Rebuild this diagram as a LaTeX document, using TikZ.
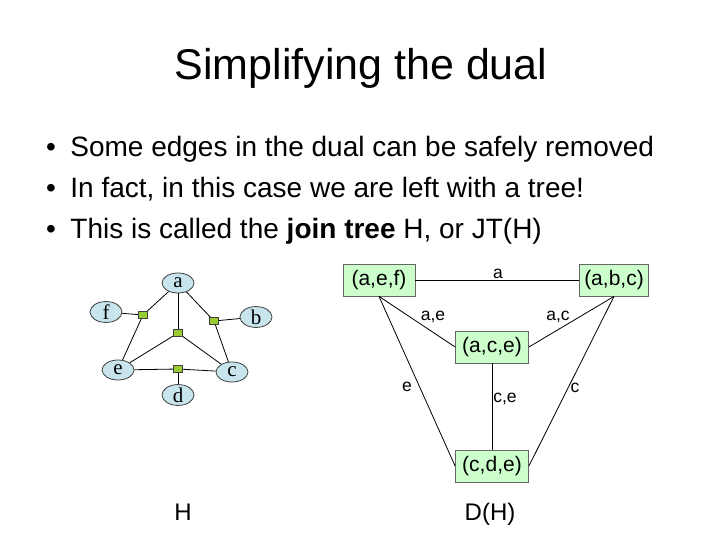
\documentclass[tikz,border=0pt]{standalone}
\usepackage{fontspec}
\setmainfont{Liberation Sans}
\newfontfamily\varfont{Liberation Serif}
\usetikzlibrary{positioning, shapes.geometric}

\definecolor{varblue}{HTML}{C8E4EC}
\definecolor{hubgreen}{HTML}{99CC33}
\definecolor{cliquegreen}{HTML}{CCFFCC}

\tikzset{
    var/.style={ellipse, draw=black!75, fill=varblue, minimum width=32pt,
        minimum height=20pt, inner sep=0pt, font=\varfont\fontsize{21}{21}\selectfont},
    hub/.style={rectangle, draw=black!75, fill=hubgreen, minimum width=9pt,
        minimum height=7pt, inner sep=0pt},
    clique/.style={rectangle, draw=black!60, fill=cliquegreen, minimum height=32pt,
        inner xsep=5pt, font=\fontsize{21}{21}\selectfont},
    seplabel/.style={font=\fontsize{17.5}{17.5}\selectfont, inner sep=1pt},
    bulletline/.style={anchor=base west, inner sep=0pt, font=\fontsize{28}{28}\selectfont},
}

\begin{document}
\begin{tikzpicture}[x=1pt, y=-1pt, line width=0.8pt]
    \useasboundingbox (0,0) rectangle (720,540);

    % Title and bullets
    \node[inner sep=0pt, anchor=base, font=\fontsize{43}{43}\selectfont] (title) at (361,80) {Simplifying the dual};
    \foreach \y/\txt [count=\i] in {157/{Some edges in the dual can be safely removed},
                                    198/{In fact, in this case we are left with a tree!},
                                    238/{This is called the \textbf{join tree} H, or JT(H)}}{
        \node[bulletline] (line\i) at (70,\y) {\txt};
        \node[bulletline, anchor=base] (dot\i) at (51,\y) {\textbullet};
    }

    % The hypergraph H: variables and hyperedges
    \node[var] (a) at (178,283) {a};
    \node[var] (f) at (106,312) {f};
    \node[var] (b) at (256,317) {b};
    \node[var] (e) at (118,370) {e};
    \node[var] (c) at (232,372) {c};
    \node[var] (d) at (178,395) {d};

    \node[hub] (hAEF) at (143,315) {};
    \node[hub] (hABC) at (214,321) {};
    \node[hub] (hACE) at (178,333) {};
    \node[hub] (hCDE) at (178,369) {};

    % each hub to its three variables
    \foreach \h/\u/\v/\w in {hAEF/a/e/f, hABC/a/b/c, hACE/a/c/e, hCDE/c/d/e}{
        \draw (\h) -- (\u);
        \draw (\h) -- (\v);
        \draw (\h) -- (\w);
    }

    % The dual D(H)
    \node[clique, minimum width=72pt] (aef) at (379,280) {(a,e,f)};
    \node[clique, minimum width=63pt] (abc) at (614,280) {(a,b,c)};
    \node[clique, minimum width=73pt] (ace) at (492,347) {(a,c,e)};
    \node[clique, minimum width=73pt] (cde) at (492,466) {(c,d,e)};

    \draw (aef.east) -- (abc.west);
    \draw (aef.south) -- (ace.west);
    \draw (abc.south) -- (ace.east);
    \draw (ace.south) -- (cde.north);
    \draw (aef.south) -- (cde.west);
    \draw (abc.south) -- (cde.east);

    % separator labels
    \node[seplabel] (sA)  at (498,274) {a};
    \node[seplabel] (sAE) at (433,317) {a,e};
    \node[seplabel] (sAC) at (558,317) {a,c};
    \node[seplabel] (sE)  at (407,387) {e};
    \node[seplabel] (sCE) at (505,399) {c,e};
    \node[seplabel] (sC)  at (575,388) {c};

    % captions
    \node[inner sep=0pt, anchor=base, font=\fontsize{24}{24}\selectfont] (capH) at (183,520) {H};
    \node[inner sep=0pt, anchor=base, font=\fontsize{24}{24}\selectfont] (capD) at (490,520) {D(H)};
\end{tikzpicture}
\end{document}
